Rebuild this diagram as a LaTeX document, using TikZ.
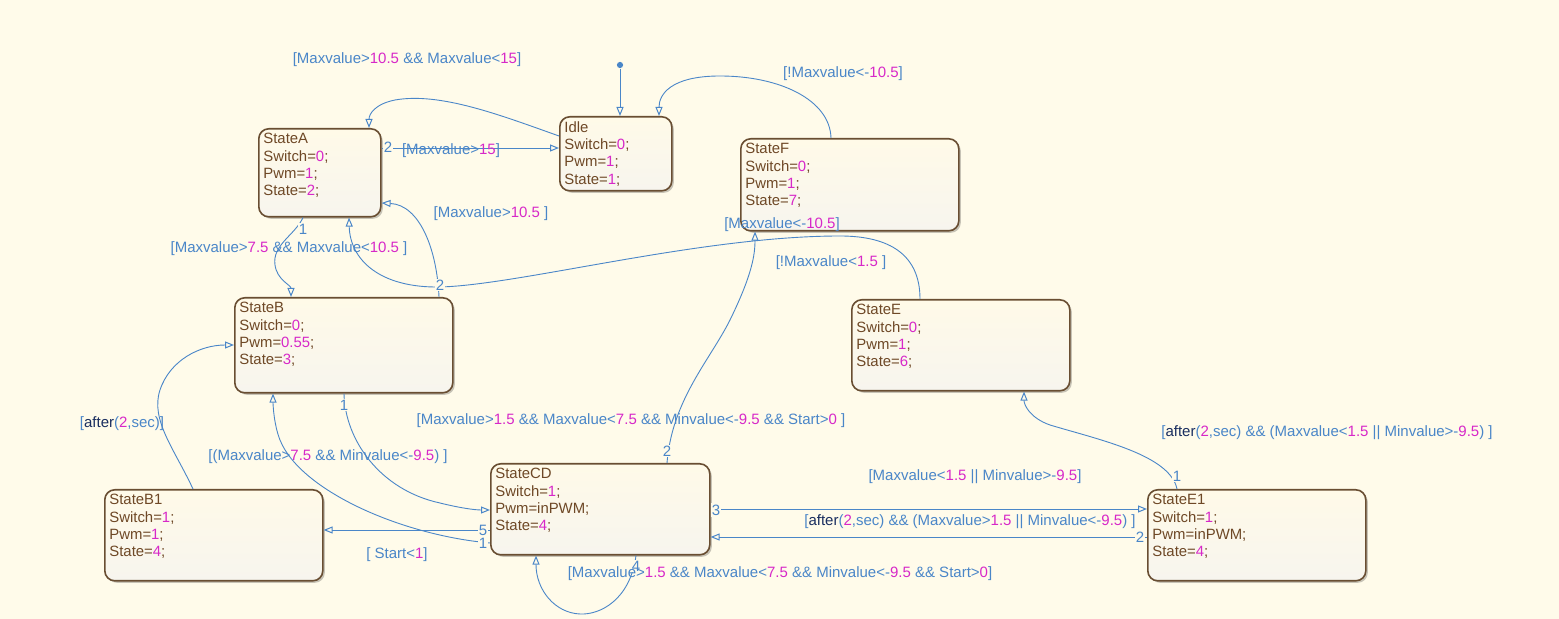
\documentclass[tikz,border=0pt]{standalone}
\usepackage{fontspec}
\setmainfont{Liberation Sans}
\usetikzlibrary{arrows.meta,shadows}
\definecolor{bg}{RGB}{255,251,234}
\definecolor{sbrd}{RGB}{105,78,50}
\definecolor{stxt}{RGB}{110,72,38}
\definecolor{mag}{RGB}{215,40,200}
\definecolor{tblue}{RGB}{74,134,200}
\definecolor{navy}{RGB}{25,45,95}
\definecolor{boxtop}{RGB}{255,250,232}
\definecolor{boxbot}{RGB}{247,245,238}
\newcommand{\nm}[1]{\textcolor{mag}{#1}}
\newcommand{\aft}{\textcolor{navy}{after}}
\begin{document}
\begin{tikzpicture}[x=0.5pt,y=-0.5pt,font=\fontsize{7.5}{8.65}\selectfont,
  stbox/.style={draw=sbrd, line width=0.8pt, rounded corners=5pt, top color=boxtop, bottom color=boxbot,
    drop shadow={shadow xshift=1pt, shadow yshift=-1pt, fill=black, opacity=0.22}, anchor=north west, inner sep=0},
  sttext/.style={anchor=north west, inner sep=0, align=left, text=stxt, font=\fontsize{7.45}{8.65}\selectfont},
  lbl/.style={text=tblue, inner sep=0.5pt},
  num/.style={text=tblue, fill=bg, inner sep=0.6pt},
  tr/.style={draw=tblue, line width=0.45pt, -{Triangle[open,length=4.5pt,width=3.5pt,line width=0.5pt]}}]
\fill[bg] (0,0) rectangle (1559,619);
\useasboundingbox (0,0) rectangle (1559,619);

% states
\node[stbox, minimum width=56pt, minimum height=37pt] (Idle) at (559,116) {};
\node[sttext] (Idlet) at (564,121) {Idle\\Switch=\nm{0};\\Pwm=\nm{1};\\State=\nm{1};};
\node[stbox, minimum width=61pt, minimum height=44pt] (A) at (258,128) {};
\node[sttext] (At) at (263,133) {StateA\\Switch=\nm{0};\\Pwm=\nm{1};\\State=\nm{2};};
\node[stbox, minimum width=109pt, minimum height=46pt] (F) at (740,138) {};
\node[sttext] (Ft) at (745,143) {StateF\\Switch=\nm{0};\\Pwm=\nm{1};\\State=\nm{7};};
\node[stbox, minimum width=109pt, minimum height=47.5pt] (B) at (234,297) {};
\node[sttext] (Bt) at (239,302) {StateB\\Switch=\nm{0};\\Pwm=\nm{0.55};\\State=\nm{3};};
\node[stbox, minimum width=109pt, minimum height=45.5pt] (E) at (851,299) {};
\node[sttext] (Et) at (856,304) {StateE\\Switch=\nm{0};\\Pwm=\nm{1};\\State=\nm{6};};
\node[stbox, minimum width=109pt, minimum height=45.5pt] (B1) at (104,489) {};
\node[sttext] (B1t) at (109,494) {StateB1\\Switch=\nm{1};\\Pwm=\nm{1};\\State=\nm{4};};
\node[stbox, minimum width=109.5pt, minimum height=45.5pt] (CD) at (490,463) {};
\node[sttext] (CDt) at (495,468) {StateCD\\Switch=\nm{1};\\Pwm=inPWM;\\State=\nm{4};};
\node[stbox, minimum width=109pt, minimum height=45.5pt] (E1) at (1147,489) {};
\node[sttext] (E1t) at (1152,494) {StateE1\\Switch=\nm{1};\\Pwm=inPWM;\\State=\nm{4};};

% default transition
\node[circle, fill=tblue, inner sep=1.1pt] (init) at (620,65) {};
\draw[tr] (init) -- (Idle.north -| 620,0);

% transitions
\draw[tr] (Idle.west |- 0,136) .. controls (500,115) and (440,92) .. (395,100) .. controls (375,104) and (369,114) .. (A.north -| 369,0);
\draw[tr] (A.east |- 0,148) -- (Idle.west |- 0,148);
\draw[tr] (F.north -| 831,0) .. controls (830,100) and (780,76) .. (720,76) .. controls (670,76) and (659,95) .. (Idle.north -| 659,0);
\draw[tr] (B.north -| 439,0) .. controls (437,250) and (420,205) .. (A.east |- 0,203);
\draw[tr] (A.south -| 303,0) .. controls (295,235) and (272,245) .. (275,265) .. controls (277,280) and (291,285) .. (B.north -| 291,0);
\draw[tr] (E.north -| 920,0) .. controls (920,255) and (890,236) .. (840,236) .. controls (700,236) and (520,285) .. (440,287) .. controls (380,288) and (350,260) .. (A.south -| 349,0);
\draw[tr] (CD.north -| 667,0) .. controls (672,400) and (710,360) .. (730,320) .. controls (752,275) and (755,255) .. (F.south -| 755,0);
\draw[tr] (B.south -| 344,0) .. controls (345,440) and (380,490) .. (440,503) .. controls (460,508) and (475,510) .. (CD.west |- 0,510);
\draw[tr] (CD.west |- 0,543) .. controls (400,535) and (300,490) .. (280,440) .. controls (274,425) and (273,405) .. (B.south -| 273,0);
\draw[tr] (CD.west |- 0,530) -- (B1.east |- 0,530);
\draw[tr] (B1.north -| 193,0) .. controls (175,450) and (150,420) .. (160,390) .. controls (170,360) and (200,345) .. (B.west |- 0,345);
\draw[tr] (CD.east |- 0,509) -- (E1.west |- 0,509);
\draw[tr] (E1.west |- 0,537) -- (CD.east |- 0,537);
\draw[tr] (E1.north -| 1177,0) .. controls (1170,455) and (1100,440) .. (1050,425) .. controls (1030,418) and (1024,405) .. (E.south -| 1024,0);
\draw[tr] (CD.south -| 636,0) .. controls (630,600) and (600,615) .. (580,614) .. controls (555,613) and (536,590) .. (CD.south -| 536,0);

% transition numbers
\node[num] (n1) at (388,147) {2};
\node[num] (n2) at (440,285) {2};
\node[num] (n3) at (303,229) {1};
\node[num] (n4) at (667,451) {2};
\node[num] (n5) at (344,405) {1};
\node[num] (n6) at (483,543) {1};
\node[num] (n7) at (483,530) {5};
\node[num] (n8) at (716,510) {3};
\node[num] (n9) at (1140,537) {2};
\node[num] (n10) at (1177,476) {1};
\node[num] (n11) at (636,566) {4};

% guard labels
\node[lbl] (l1) at (407,60) {[Maxvalue>\nm{10.5} \&\& Maxvalue<\nm{15}]};
\node[lbl] (l2) at (451,151) {[Maxvalue>\nm{15}]};
\node[lbl] (l3) at (843,74) {[!Maxvalue<-\nm{10.5}]};
\node[lbl] (l4) at (491,214) {[Maxvalue>\nm{10.5} ]};
\node[lbl] (l5) at (289,249) {[Maxvalue>\nm{7.5} \&\& Maxvalue<\nm{10.5} ]};
\node[lbl] (l6) at (782,225) {[Maxvalue<-\nm{10.5}]};
\node[lbl] (l7) at (831,263) {[!Maxvalue<\nm{1.5} ]};
\node[lbl] (l8) at (631,421) {[Maxvalue>\nm{1.5} \&\& Maxvalue<\nm{7.5} \&\& Minvalue<-\nm{9.5} \&\& Start>\nm{0} ]};
\node[lbl] (l9) at (328,457) {[(Maxvalue>\nm{7.5} \&\& Minvalue<-\nm{9.5}) ]};
\node[lbl] (l10) at (122,424) {[\aft(\nm{2},sec)]};
\node[lbl] (l11) at (397,555) {[ Start<\nm{1}]};
\node[lbl] (l12) at (975,477) {[Maxvalue<\nm{1.5} || Minvalue>-\nm{9.5}]};
\node[lbl] (l13) at (970,522) {[\aft(\nm{2},sec) \&\& (Maxvalue>\nm{1.5} || Minvalue<-\nm{9.5}) ]};
\node[lbl] (l14) at (1327,433) {[\aft(\nm{2},sec) \&\& (Maxvalue<\nm{1.5} || Minvalue>-\nm{9.5}) ]};
\node[lbl] (l15) at (780,574) {[Maxvalue>\nm{1.5} \&\& Maxvalue<\nm{7.5} \&\& Minvalue<-\nm{9.5} \&\& Start>\nm{0}]};
\end{tikzpicture}
\end{document}
